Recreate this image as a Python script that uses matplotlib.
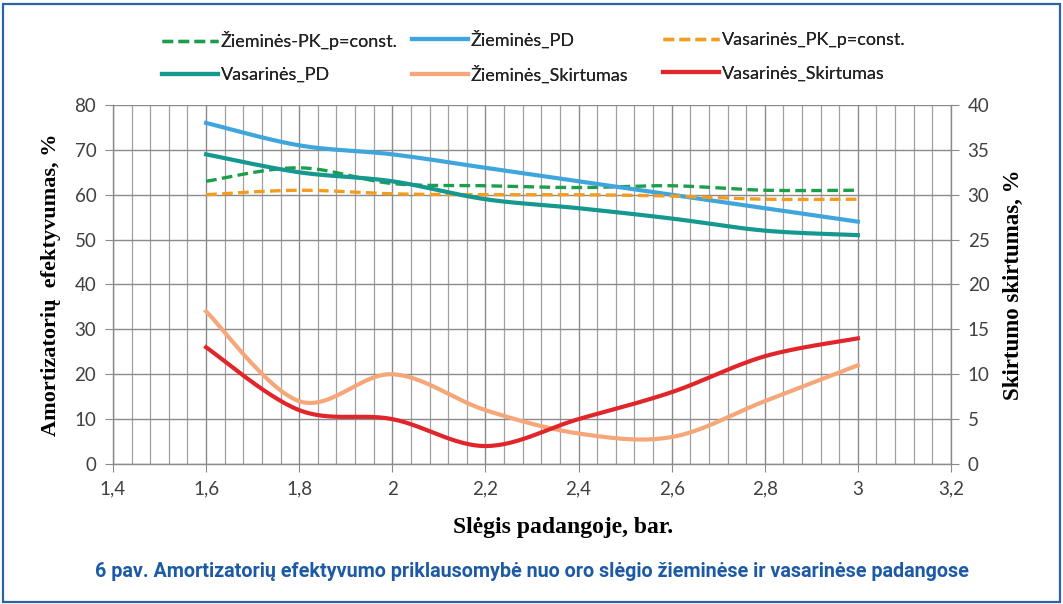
import numpy as np
import matplotlib.pyplot as plt
from matplotlib.patches import Rectangle
from matplotlib.ticker import MultipleLocator, FuncFormatter

pressure = [1.6, 1.8, 2.0, 2.2, 2.4, 2.6, 2.8, 3.0]

ziem_pk = [63, 66, 62.5, 62, 61.6, 62, 61, 61]
ziem_pd = [76, 71, 69, 66, 63, 60, 57, 54]
vasar_pk = [60, 61, 60.2, 60, 60, 59.7, 59, 59]
vasar_pd = [69, 65, 63, 59, 57, 54.7, 52, 51]
ziem_skirt = [17, 7, 10, 6, 3.4, 3, 7, 11]
vasar_skirt = [13, 6, 5, 2, 5, 8, 12, 14]


def smooth(x, y, n=30):
    # Excel-like smoothed line (Catmull-Rom through the points)
    x = np.asarray(x, float)
    y = np.asarray(y, float)
    px = np.concatenate([[x[0]], x, [x[-1]]])
    py = np.concatenate([[y[0]], y, [y[-1]]])
    xs, ys = [], []
    t = np.linspace(0, 1, n)
    for i in range(1, len(px) - 2):
        p0, p1, p2, p3 = (np.array([px[j], py[j]]) for j in (i - 1, i, i + 1, i + 2))
        c1 = p1 + (p2 - p0) / 6
        c2 = p2 - (p3 - p1) / 6
        b = ((1 - t) ** 3)[:, None] * p1 + (3 * (1 - t) ** 2 * t)[:, None] * c1 \
            + (3 * (1 - t) * t ** 2)[:, None] * c2 + (t ** 3)[:, None] * p2
        xs.append(b[:, 0])
        ys.append(b[:, 1])
    return np.concatenate(xs), np.concatenate(ys)


plt.rcParams['font.family'] = ['Lato', 'DejaVu Sans']

fig = plt.figure(figsize=(10.63, 6.04), dpi=100)
ax = fig.add_axes([0.1063, 0.2318, 0.7883, 0.5944])
ax2 = ax.twinx()

c_green = '#1e9e4a'
c_blue = '#3ea6dc'
c_orange = '#f39c1f'
c_teal = '#14988f'
c_peach = '#f5a77a'
c_red = '#e0262b'

h1, = ax.plot(*smooth(pressure, ziem_pk), '--', color=c_green, lw=2.4, dashes=(3.2, 1.6))
h2, = ax.plot(*smooth(pressure, ziem_pd), color=c_blue, lw=3)
h3, = ax.plot(*smooth(pressure, vasar_pk), '--', color=c_orange, lw=2.4, dashes=(3.2, 1.6))
h4, = ax.plot(*smooth(pressure, vasar_pd), color=c_teal, lw=3)
h5, = ax2.plot(*smooth(pressure, ziem_skirt), color=c_peach, lw=3)
h6, = ax2.plot(*smooth(pressure, vasar_skirt), color=c_red, lw=3)

ax.set_xlim(1.4, 3.2)
ax.set_ylim(0, 80)
ax2.set_ylim(0, 40)
ax.xaxis.set_major_locator(MultipleLocator(0.2))
ax.xaxis.set_minor_locator(MultipleLocator(0.04))
ax.yaxis.set_major_locator(MultipleLocator(10))
ax2.yaxis.set_major_locator(MultipleLocator(5))
ax.xaxis.set_major_formatter(FuncFormatter(lambda v, p: f'{v:.1f}'.rstrip('0').rstrip('.').replace('.', ',')))

ax.grid(True, which='major', color='#8a8a8a', lw=1)
ax.grid(True, which='minor', axis='x', color='#a0a0a0', lw=0.9)
ax.set_axisbelow(True)

for a in (ax, ax2):
    for s in a.spines.values():
        s.set_visible(False)
ax.spines['left'].set_visible(True)
ax.spines['bottom'].set_visible(True)
ax2.spines['right'].set_visible(True)
for s in (ax.spines['left'], ax.spines['bottom'], ax2.spines['right']):
    s.set_color('#8a8a8a')
    s.set_linewidth(1)

ax.tick_params(axis='both', which='major', length=6, color='#8a8a8a', labelsize=13.5,
               labelcolor='#404040', pad=6)
ax.tick_params(axis='x', which='minor', length=0)
ax2.tick_params(axis='y', length=6, color='#8a8a8a', labelsize=13.5, labelcolor='#404040', pad=6)

ax.set_xlabel('Slėgis padangoje, bar.', family='Liberation Serif', fontweight='bold',
              fontsize=17)
ax.xaxis.set_label_coords(0.537, -0.148)
ax.set_ylabel('Amortizatorių  efektyvumas, %', family='Liberation Serif', fontweight='bold',
              fontsize=16)
ax.yaxis.set_label_coords(-0.062, 0.5)
ax2.set_ylabel('Skirtumo skirtumas, %', family='Liberation Serif', fontweight='bold',
               fontsize=16.5)
ax2.yaxis.set_label_coords(1.062, 0.5)

cols = [([h1, h4], ['Žieminės-PK_p=const.', 'Vasarinės_PD'], 0.1524),
        ([h2, h5], ['Žieminės_PD', 'Žieminės_Skirtumas'], 0.3876),
        ([h3, h6], ['Vasarinės_PK_p=const.', 'Vasarinės_Skirtumas'], 0.6237)]
for hs, ls, xpos in cols:
    leg = fig.legend(hs, ls, loc='center left', bbox_to_anchor=(xpos, 0.9056),
                     frameon=False, borderpad=0, borderaxespad=0, handlelength=3.1,
                     handletextpad=0.15, labelspacing=0.95,
                     prop={'family': ['Lato', 'DejaVu Sans'], 'size': 13})
    for t in leg.get_texts():
        t.set_color('#222222')
    fig.add_artist(leg)

fig.text(0.5, 0.054, '6 pav. Amortizatorių efektyvumo priklausomybė nuo oro slėgio žieminėse ir vasarinėse padangose',
         ha='center', va='center', color='#1d5aa5', fontsize=14.2, fontweight='bold',
         family=['Liberation Sans Narrow', 'Roboto', 'DejaVu Sans'])

fig.patches.append(Rectangle((0.003, 0.004), 0.994, 0.989, transform=fig.transFigure,
                             fill=False, edgecolor='#2a64a8', lw=1.6))

fig.savefig('out.png', dpi=100)
